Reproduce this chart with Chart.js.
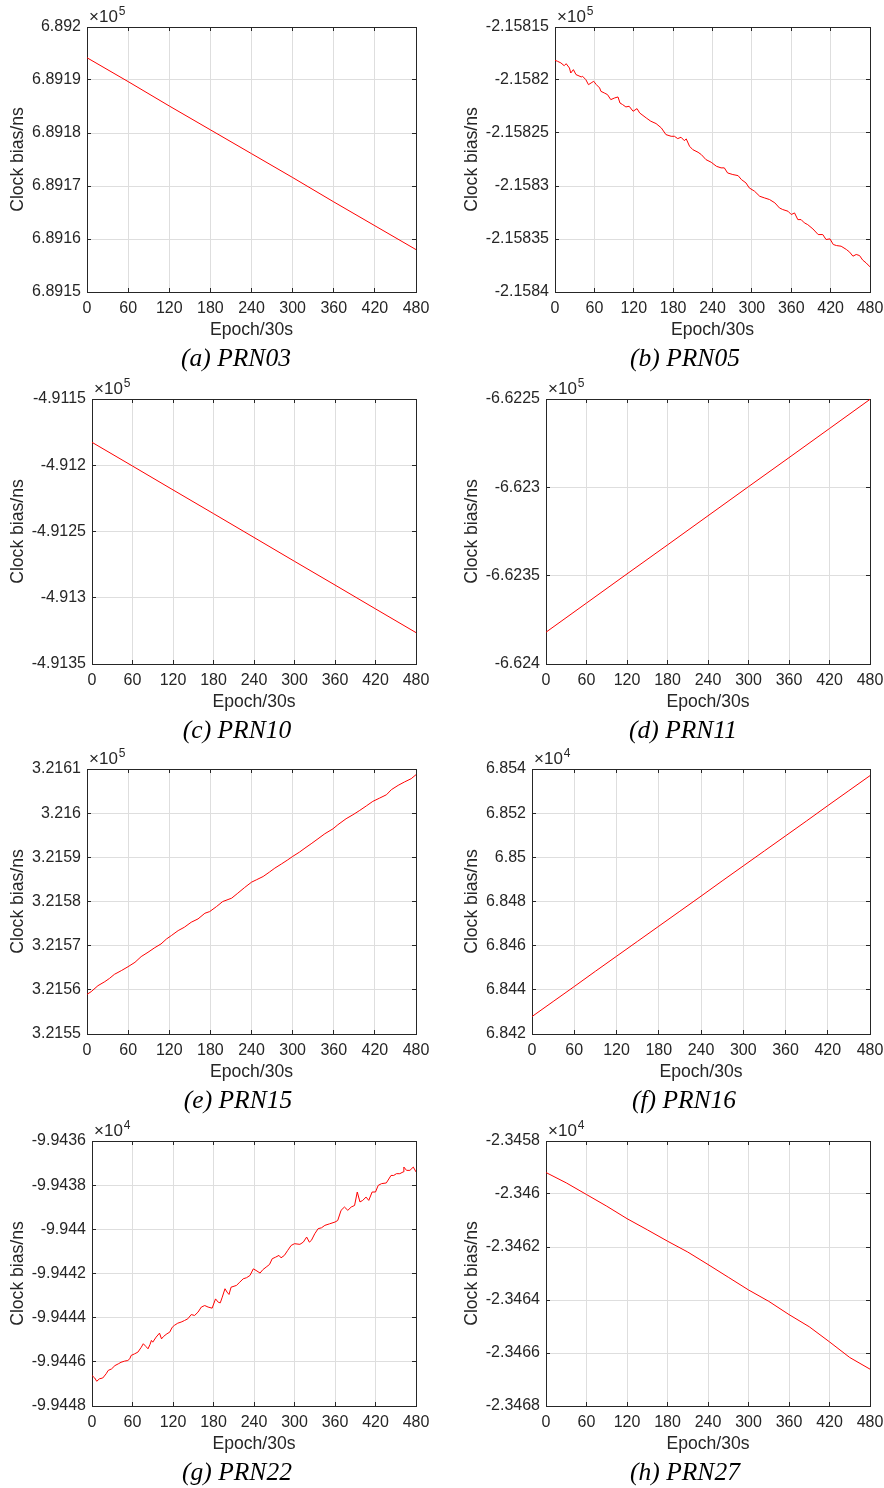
<!DOCTYPE html>
<html><head><meta charset="utf-8">
<script src="https://cdn.jsdelivr.net/npm/chart.js@4.4.1/dist/chart.umd.min.js"></script>
<style>
html,body{margin:0;padding:0;background:#fff;width:884px;height:1488px;overflow:hidden;position:relative}
canvas.cv{position:absolute;display:block}
.exp{position:absolute;font-family:"Liberation Sans",Arial,sans-serif;font-size:17px;line-height:16px;color:#262626;white-space:nowrap}
.exp sup{font-size:12px;vertical-align:baseline;position:relative;top:-7.5px;margin-left:1px}
.cap{position:absolute;width:260px;text-align:center;font-family:"Liberation Serif","Times New Roman",serif;font-style:italic;font-size:25.5px;line-height:25.5px;color:#000;white-space:nowrap}
</style></head><body>
<script>
// ---------- data ----------
const xTickLabels = ['0','60','120','180','240','300','360','420','480'];

const epochsA = [0,60,120,180,240,300,360,420,480];
const valuesA = [689194.2,689189.7,689185.1,689180.6,689176.1,689171.6,689167.0,689162.5,689158.0];
const yLabelsA = ['6.8915','6.8916','6.8917','6.8918','6.8919','6.892'];

const epochsB = [0,4,9,14,17,22,24,28,32,40,42,47,51,55,59,63,68,70,75,80,85,91,96,99,103,108,113,119,125,129,139,146,154,162,169,177,182,187,192,197,200,205,210,218,223,230,238,246,253,258,263,271,279,284,291,296,304,312,319,327,335,342,347,355,360,365,370,375,380,385,393,401,408,413,419,424,429,436,444,449,454,459,464,469,474,480];
const valuesB = [-215818.14,-215818.24,-215818.39,-215818.65,-215818.46,-215818.87,-215819.34,-215819.02,-215819.49,-215819.71,-215819.65,-215819.97,-215820.44,-215820.28,-215820.12,-215820.44,-215820.75,-215821.07,-215821.22,-215821.38,-215821.85,-215821.69,-215821.60,-215822.17,-215822.32,-215822.54,-215822.48,-215822.95,-215822.70,-215823.11,-215823.58,-215823.89,-215824.11,-215824.52,-215825.15,-215825.31,-215825.31,-215825.53,-215825.40,-215825.72,-215825.56,-215826.25,-215826.57,-215826.82,-215827.04,-215827.51,-215827.76,-215828.14,-215828.29,-215828.29,-215828.77,-215828.92,-215829.02,-215829.39,-215829.71,-215830.18,-215830.49,-215830.97,-215831.12,-215831.28,-215831.59,-215832.07,-215832.22,-215832.38,-215832.69,-215832.54,-215833.17,-215833.17,-215833.48,-215833.64,-215834.05,-215834.58,-215834.58,-215835.05,-215834.99,-215835.52,-215835.62,-215835.68,-215835.99,-215836.24,-215836.62,-215836.46,-215836.56,-215837.00,-215837.25,-215837.63];
const yLabelsB = ['-2.1584','-2.15835','-2.1583','-2.15825','-2.1582','-2.15815'];

const epochsC = [0,60,120,180,240,300,360,420,480];
const valuesC = [-491182.7,-491200.6,-491218.6,-491236.5,-491254.5,-491272.5,-491290.4,-491308.4,-491326.3];
const yLabelsC = ['-4.9135','-4.913','-4.9125','-4.912','-4.9115'];

const epochsD = [0,60,120,180,240,300,360,420,480];
const valuesD = [-662382.0,-662365.5,-662349.0,-662332.6,-662316.1,-662299.6,-662283.2,-662266.7,-662250.2];
const yLabelsD = ['-6.624','-6.6235','-6.623','-6.6225'];

const epochsE = [0,6,16,26,33,40,50,60,70,79,89,99,108,116,123,133,142,152,162,172,179,189,198,211,220,230,240,247,257,266,274,284,293,300,310,318,327,337,347,359,366,378,388,398,408,417,427,437,444,454,463,473,480];
const valuesE = [321558.98,321559.58,321560.94,321561.85,321562.61,321563.51,321564.34,321565.25,321566.23,321567.52,321568.50,321569.56,321570.39,321571.52,321572.28,321573.41,321574.17,321575.30,321576.06,321577.34,321577.72,321578.86,321579.99,321580.75,321581.88,321583.17,321584.37,321584.90,321585.66,321586.64,321587.55,321588.53,321589.44,321590.20,321591.18,321592.09,321593.07,321594.20,321595.34,321596.47,321597.38,321598.74,321599.64,321600.63,321601.69,321602.67,321603.42,321604.18,321605.31,321606.30,321607.05,321607.81,321608.71];
const yLabelsE = ['3.2155','3.2156','3.2157','3.2158','3.2159','3.216','3.2161'];

const epochsF = [0,30,60,90,120,150,180,210,240,270,300,330,360,390,420,450,480];
const valuesF = [68427.9,68434.7,68441.5,68448.4,68455.2,68462.0,68468.8,68475.6,68482.4,68489.3,68496.1,68502.9,68509.7,68516.5,68523.4,68530.2,68537.0];
const yLabelsF = ['6.842','6.844','6.846','6.848','6.85','6.852','6.854'];

const epochsG = [0,4,7,11,16,21,24,29,34,39,43,48,53,56,58,63,68,73,76,80,83,86,88,90,95,100,103,106,111,115,119,122,127,132,137,142,147,152,157,162,167,172,178,183,187,190,193,197,200,203,206,214,219,224,229,234,239,243,249,253,258,263,267,272,277,280,285,290,295,300,308,313,318,322,325,330,335,340,345,352,360,364,369,374,379,384,389,393,397,401,406,410,415,420,424,429,436,443,447,451,456,461,462,466,471,476,480];
const valuesG = [-99446.62,-99446.73,-99446.88,-99446.77,-99446.73,-99446.54,-99446.39,-99446.32,-99446.17,-99446.09,-99446.02,-99445.97,-99445.94,-99445.86,-99445.71,-99445.64,-99445.56,-99445.34,-99445.18,-99445.31,-99445.41,-99445.21,-99445.03,-99445.11,-99444.88,-99444.70,-99444.96,-99444.85,-99444.73,-99444.66,-99444.43,-99444.35,-99444.25,-99444.20,-99444.13,-99444.05,-99443.86,-99443.90,-99443.75,-99443.52,-99443.45,-99443.52,-99443.57,-99443.15,-99443.30,-99443.33,-99443.07,-99442.69,-99442.84,-99442.95,-99442.62,-99442.54,-99442.39,-99442.24,-99442.19,-99442.09,-99441.79,-99441.86,-99441.98,-99441.83,-99441.71,-99441.59,-99441.33,-99441.26,-99441.18,-99441.29,-99441.18,-99440.95,-99440.73,-99440.65,-99440.68,-99440.58,-99440.35,-99440.58,-99440.50,-99440.20,-99439.97,-99439.93,-99439.82,-99439.75,-99439.67,-99439.60,-99439.14,-99438.99,-99439.14,-99438.99,-99438.92,-99438.31,-99438.76,-99438.69,-99438.54,-99438.69,-99438.31,-99438.31,-99438.01,-99437.93,-99437.90,-99437.56,-99437.56,-99437.48,-99437.48,-99437.40,-99437.18,-99437.33,-99437.33,-99437.18,-99437.40];
const yLabelsG = ['-9.9448','-9.9446','-9.9444','-9.9442','-9.944','-9.9438','-9.9436'];

const epochsH = [0,30,60,90,120,150,180,210,240,270,300,330,360,390,420,450,480];
const valuesH = [-23459.19,-23459.58,-23460.02,-23460.46,-23460.93,-23461.35,-23461.78,-23462.19,-23462.66,-23463.14,-23463.62,-23464.05,-23464.55,-23465.01,-23465.58,-23466.17,-23466.61];
const yLabelsH = ['-2.3468','-2.3466','-2.3464','-2.3462','-2.346','-2.3458'];

const captions = ['(a) PRN03','(b) PRN05','(c) PRN10','(d) PRN11','(e) PRN15','(f) PRN16','(g) PRN22','(h) PRN27'];
const exponents = [5,5,5,5,5,4,4,4];

// ---------- layout ----------
const ROW_TOP = [27, 399, 769, 1141];
const PLOT_H = 265;
const panels = [
  {ep:epochsA, val:valuesA, yl:yLabelsA, row:0, col:0, L:87,  capX:236},
  {ep:epochsB, val:valuesB, yl:yLabelsB, row:0, col:1, L:555, capX:685},
  {ep:epochsC, val:valuesC, yl:yLabelsC, row:1, col:0, L:92,  capX:237},
  {ep:epochsD, val:valuesD, yl:yLabelsD, row:1, col:1, L:546, capX:683},
  {ep:epochsE, val:valuesE, yl:yLabelsE, row:2, col:0, L:87,  capX:238},
  {ep:epochsF, val:valuesF, yl:yLabelsF, row:2, col:1, L:532, capX:684},
  {ep:epochsG, val:valuesG, yl:yLabelsG, row:3, col:0, L:92,  capX:237},
  {ep:epochsH, val:valuesH, yl:yLabelsH, row:3, col:1, L:546, capX:685}
];

Chart.defaults.font.family = '"Liberation Sans", Arial, sans-serif';
Chart.defaults.color = '#262626';

const INK = '#262626';
const GRID = '#dedede';
const xTickVals = xTickLabels.map(Number);

function edgeTransparent(n){
  return ctx => (ctx.index === 0 || ctx.index === n - 1) ? 'rgba(0,0,0,0)' : GRID;
}

function makePanel(p, k) {
  const colLeft = p.col === 0 ? 0 : 440;
  const R = p.col === 0 ? 416 : 870;
  const padR = p.col === 0 ? 20 : 14;
  const T = ROW_TOP[p.row];
  const B = T + PLOT_H;
  const topPad = 27, xAxisH = 55;
  const W = R + padR - colLeft;
  const Ht = topPad + PLOT_H + xAxisH;
  const cv = document.createElement('canvas');
  cv.className = 'cv';
  cv.width = W; cv.height = Ht;
  cv.style.left = colLeft + 'px'; cv.style.top = (T - topPad) + 'px';
  cv.style.width = W + 'px'; cv.style.height = Ht + 'px';
  document.body.appendChild(cv);

  const exp = exponents[k];
  const mult = Math.pow(10, exp);
  const yTickVals = p.yl.map(s => parseFloat(s) * mult);
  const yMin = yTickVals[0], yMax = yTickVals[yTickVals.length - 1];
  const yAxisW = p.L - colLeft;
  const titlePad = p.col === 0 ? 8 : 21.5;
  const ny = yTickVals.length, nx = xTickVals.length;

  new Chart(cv, {
    type: 'line',
    data: { datasets: [{
      data: p.ep.map((e, i) => ({x: e, y: p.val[i]})),
      borderColor: '#ff0000', borderWidth: 1, pointRadius: 0, tension: 0, fill: false
    }]},
    options: {
      responsive: false, animation: false, events: [],
      layout: { padding: {left: 0, top: topPad, right: padR, bottom: 0} },
      plugins: { legend: {display: false}, tooltip: {enabled: false}, title: {display: false} },
      scales: {
        x: {
          type: 'linear', position: 'bottom', min: 0, max: 480,
          afterBuildTicks: s => { s.ticks = xTickVals.map(v => ({value: v})); },
          afterFit: s => { s.height = xAxisH; s.paddingLeft = 0; s.paddingRight = 0; },
          ticks: { autoSkip: false, maxRotation: 0, minRotation: 0, padding: 11, color: INK,
                   font: {size: 16}, callback: (v, i) => xTickLabels[i] },
          grid: { color: edgeTransparent(nx), lineWidth: 1, drawTicks: true, tickLength: -4,
                  tickColor: INK, tickWidth: 1 },
          border: { display: true, color: INK, width: 1 },
          title: { display: true, text: 'Epoch/30s', color: INK, font: {size: 17.6},
                   padding: {top: 0, bottom: 6.4} }
        },
        x2: {
          type: 'linear', position: 'top', min: 0, max: 480,
          afterBuildTicks: s => { s.ticks = xTickVals.map(v => ({value: v})); },
          afterFit: s => { s.height = 0; s.paddingLeft = 0; s.paddingRight = 0; },
          ticks: { display: false },
          grid: { drawOnChartArea: false, drawTicks: true, tickLength: -4, tickColor: INK, tickWidth: 1 },
          border: { display: true, color: INK, width: 1 }
        },
        y: {
          type: 'linear', position: 'left', min: yMin, max: yMax,
          afterBuildTicks: s => { s.ticks = yTickVals.map(v => ({value: v})); },
          afterFit: s => { s.width = yAxisW; s.paddingTop = 0; s.paddingBottom = 0; },
          ticks: { autoSkip: false, padding: 10, color: INK, font: {size: 16},
                   callback: (v, i) => p.yl[i] },
          grid: { color: edgeTransparent(ny), lineWidth: 1, drawTicks: true, tickLength: -4,
                  tickColor: INK, tickWidth: 1 },
          border: { display: true, color: INK, width: 1 },
          title: { display: true, text: 'Clock bias/ns', color: INK, font: {size: 17.6},
                   padding: {top: titlePad, bottom: 0} }
        },
        y2: {
          type: 'linear', position: 'right', min: yMin, max: yMax,
          afterBuildTicks: s => { s.ticks = yTickVals.map(v => ({value: v})); },
          afterFit: s => { s.width = 0; s.paddingTop = 0; s.paddingBottom = 0; },
          ticks: { display: false },
          grid: { drawOnChartArea: false, drawTicks: true, tickLength: -4, tickColor: INK, tickWidth: 1 },
          border: { display: true, color: INK, width: 1 }
        }
      }
    }
  });

  const ex = document.createElement('div');
  ex.className = 'exp';
  ex.style.left = (p.L + 2) + 'px';
  ex.style.top = (T - 17.9) + 'px';
  ex.innerHTML = '\u00d710<sup>' + exp + '</sup>';
  document.body.appendChild(ex);

  const cap = document.createElement('div');
  cap.className = 'cap';
  cap.style.left = (p.capX - 130) + 'px';
  cap.style.top = (B + 52.6) + 'px';
  cap.textContent = captions[k];
  document.body.appendChild(cap);
}

panels.forEach(makePanel);
</script>
</body></html>
